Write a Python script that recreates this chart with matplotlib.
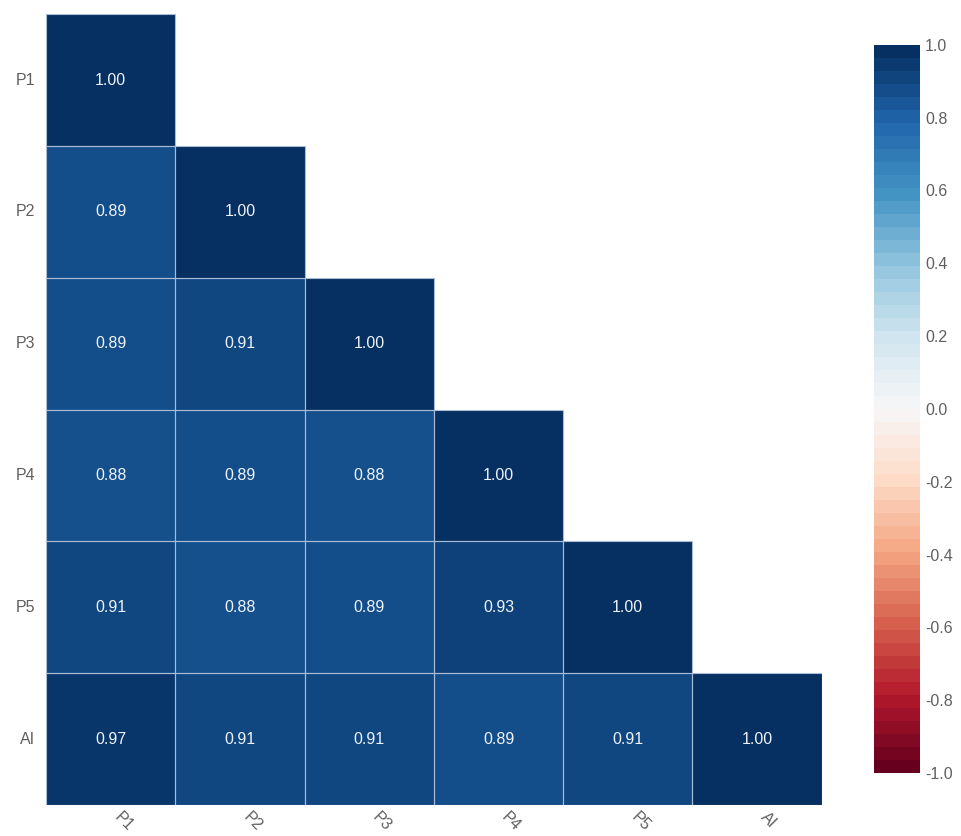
import numpy as np
import matplotlib
matplotlib.use("Agg")
import matplotlib.pyplot as plt
import matplotlib.patches as mpatches
import matplotlib.transforms as mtrans
import seaborn as sns

labels = ["P1", "P2", "P3", "P4", "P5", "AI"]
row_p1 = [1.00, 0, 0, 0, 0, 0]
row_p2 = [0.89, 1.00, 0, 0, 0, 0]
row_p3 = [0.89, 0.91, 1.00, 0, 0, 0]
row_p4 = [0.88, 0.89, 0.88, 1.00, 0, 0]
row_p5 = [0.91, 0.88, 0.89, 0.93, 1.00, 0]
row_ai = [0.97, 0.91, 0.91, 0.89, 0.91, 1.00]

corr = np.array([row_p1, row_p2, row_p3, row_p4, row_p5, row_ai])
mask = np.triu(np.ones_like(corr, dtype=bool), k=1)

sns.set_style("white")
plt.rcParams['font.family'] = ['Liberation Sans', 'DejaVu Sans']

fig = plt.figure(figsize=(9.61, 8.36), dpi=100)
ax = fig.add_axes([0.048, 0.037, 0.807, 0.946])
cax = fig.add_axes([0.909, 0.0754, 0.048, 0.871])

sns.heatmap(corr, mask=mask, cmap="RdBu", vmin=-1, vmax=1, annot=True, fmt=".2f",
            annot_kws={"size": 11.5, "color": "#eef3fa"},
            linewidths=0, cbar=False,
            xticklabels=labels, yticklabels=labels, ax=ax)

# cell borders only inside the lower triangle
n = len(labels)
for i in range(n):
    for j in range(i + 1):
        ax.add_patch(mpatches.Rectangle((j, i), 1, 1, fill=False,
                                        edgecolor="#a9bbd6", linewidth=0.8))

ax.tick_params(axis="both", length=0, colors="#606060", labelsize=11.5)
ax.tick_params(axis="x", pad=3)
ax.tick_params(axis="y", pad=8)
ax.set_xticklabels(labels, rotation=-45, ha="left", va="top", color="#606060",
                   rotation_mode="anchor")
ax.set_yticklabels(labels, rotation=0, color="#606060")
shift = mtrans.ScaledTranslation(8 / 72, 0, fig.dpi_scale_trans)
for lbl in ax.get_xticklabels():
    lbl.set_transform(lbl.get_transform() + shift)

# colorbar drawn with banded steps as in the reference
sm = plt.cm.ScalarMappable(norm=plt.Normalize(-1, 1), cmap=plt.get_cmap("RdBu", 56))
cb = fig.colorbar(sm, cax=cax)
ticks = np.round(np.arange(-1.0, 1.01, 0.2), 1)
cb.set_ticks(ticks)
cb.set_ticklabels([f"{t:.1f}" if t != 0 else "0.0" for t in ticks])
cb.outline.set_visible(False)
cax.tick_params(length=0, colors="#606060", labelsize=11.5, pad=4)

fig.savefig("out.png", dpi=100)
